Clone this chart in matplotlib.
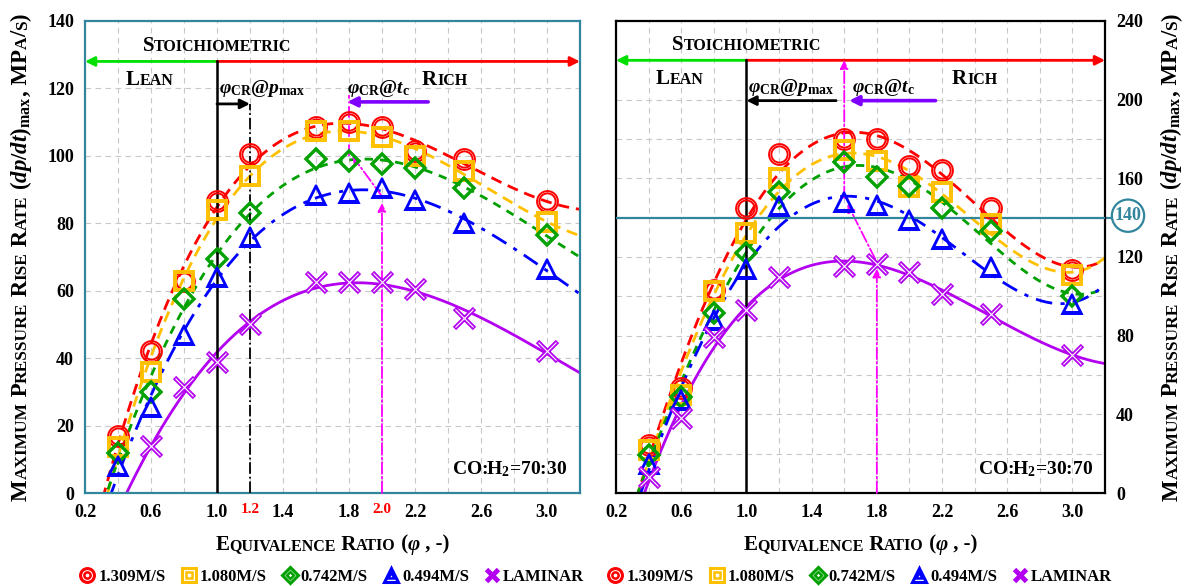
import numpy as np
import matplotlib
matplotlib.use('Agg')
import matplotlib.pyplot as plt
from matplotlib import transforms
from matplotlib.lines import Line2D
from matplotlib.legend_handler import HandlerTuple

plt.rcParams['font.family'] = ['Liberation Serif', 'DejaVu Serif']
plt.rcParams['font.weight'] = 'bold'
plt.rcParams['mathtext.fontset'] = 'custom'
plt.rcParams['mathtext.rm'] = 'Liberation Serif:bold'
plt.rcParams['mathtext.it'] = 'Liberation Serif:italic:bold'
plt.rcParams['mathtext.bf'] = 'Liberation Serif:bold'

# equivalence ratio of the measured points
phi = [0.4, 0.6, 0.8, 1.0, 1.2, 1.6, 1.8, 2.0, 2.2, 2.5, 3.0]
phi_lam_70 = [0.6, 0.8, 1.0, 1.2, 1.6, 1.8, 2.0, 2.2, 2.5, 3.0]

# CO:H2 = 70:30, (dp/dt)max in MPa/s
r1309_70 = [17, 42, 63, 86.5, 100.5, 108.5, 110, 108.5, 101.5, 99, 86.5]
r1080_70 = [13.5, 36, 63, 84, 94, 107.5, 107.5, 105.5, 100, 95.5, 80.5]
r0742_70 = [12, 30, 57.5, 69.5, 83, 99, 98.5, 97.5, 96.5, 90.5, 76.5]
r0494_70 = [8, 25.5, 47, 64, 76, 88.5, 89, 90.5, 87, 80, 66.5]
rlam_70 = [14, 31.5, 39, 50, 62.5, 62.5, 62.5, 60.5, 52, 42]

# CO:H2 = 30:70
r1309_30 = [24.5, 53.5, 103, 145, 172.5, 180, 180, 166.5, 164, 145, 113.5]
r1080_30 = [22, 50, 102.5, 132, 160, 174.5, 169, 155.5, 153, 137, 111]
r0742_30 = [19.5, 49, 91.5, 122, 153, 168.5, 160.5, 156, 145, 133, 100]
r0494_30 = [15, 47.5, 88, 114, 146, 148, 146.5, 139, 129, 115, 96]
rlam_30 = [8, 38, 79.5, 93, 110, 115.5, 116.5, 112.5, 101, 91, 70]

xticks = [0.2, 0.4, 0.6, 0.8, 1.0, 1.2, 1.4, 1.6, 1.8, 2.0, 2.2, 2.4, 2.6, 2.8, 3.0, 3.2]
xtick_labels = ['0.2', '', '0.6', '', '1.0', '', '1.4', '', '1.8', '', '2.2', '', '2.6', '', '3.0', '']
yticks_70 = [0, 20, 40, 60, 80, 100, 120, 140]
yticks_30 = [0, 20, 40, 60, 80, 100, 120, 140, 160, 180, 200, 220, 240]
ytick_labels_30 = ['0', '', '40', '', '80', '', '120', '', '160', '', '200', '', '240']

names = ['1.309', '1.080', '0.742', '0.494', 'Laminar']
colors = ['#FF0000', '#FFC000', '#00A000', '#0000FF', '#B400F0']
markers = ['o', 's', 'D', '^', 'x']
styles = [(0, (4, 2.5)), (0, (4, 2.5)), (0, (3, 2.5)), (0, (6, 3, 1.5, 3)), '-']
sizes = [15, 15, 11.5, 15, 14]

TEAL = '#31859C'
BIG, SMALL = 15, 11.5


def sc_segments(s, big=BIG, small=SMALL):
    # split a string into small-caps pieces
    segs = []
    for ch in s:
        size = small if ch.islower() else big
        c = ch.upper()
        if segs and segs[-1][1] == size and segs[-1][2] == 'normal':
            segs[-1] = (segs[-1][0] + c, size, 'normal')
        else:
            segs.append((c, size, 'normal'))
    return segs


def smallcaps(fig, x, y, segs, transform, ha='center', rotation=0, color='k'):
    r = fig.canvas.get_renderer()
    widths = []
    for s, size, style in segs:
        t = fig.text(0, 0, s, fontsize=size, style=style)
        widths.append(t.get_window_extent(r).width)
        t.remove()
    total = sum(widths)
    off = {'center': -total / 2, 'left': 0, 'right': -total}[ha]
    for (s, size, style), w in zip(segs, widths):
        dx, dy = (off, 0) if rotation == 0 else (0, off)
        tr = transforms.offset_copy(transform, fig=fig, x=dx, y=dy, units='dots')
        fig.text(x, y, s, fontsize=size, style=style, transform=tr, ha='left',
                 va='baseline', rotation=rotation, rotation_mode='anchor', color=color)
        off += w


def draw_series(ax, x, y, i, deg):
    c = colors[i]
    coeffs = np.polyfit(x, y, deg)
    xs = np.linspace(0.2, 3.2, 400)
    ax.plot(xs, np.polyval(coeffs, xs), color=c, ls=styles[i], lw=2, zorder=2)
    if markers[i] == 'x':
        ax.plot(x, y, ls='none', marker='x', ms=sizes[i], mew=3.4, color=c, zorder=4)
        ax.plot(x, y, ls='none', marker='x', ms=sizes[i] - 1, mew=0.8, color='white', zorder=5)
    else:
        ax.plot(x, y, ls='none', marker=markers[i], ms=sizes[i], mfc='none', mec=c, mew=1.4, zorder=4)
        ax.plot(x, y, ls='none', marker=markers[i], ms=sizes[i] * 0.78, mfc='none', mec=c, mew=1.4, zorder=4)


def legend_handles():
    hs = []
    for i in range(5):
        c = colors[i]
        if markers[i] == 'x':
            hs.append((Line2D([], [], ls='none', marker='x', ms=9, mew=3.5, color=c),))
        else:
            small = i == 2
            hs.append((Line2D([], [], ls='none', marker=markers[i], ms=8 if small else 10, mfc='none', mec=c, mew=2.2),
                       Line2D([], [], ls='none', marker=markers[i], ms=3.5 if small else 4.5, mfc='none', mec=c, mew=1.8)))
    return hs


def arrow(ax, p0, p1, color, lw=2, ls='-', head=12):
    ax.annotate('', xy=p1, xytext=p0, annotation_clip=False,
                arrowprops=dict(arrowstyle='-|>', color=color, lw=lw, ls=ls,
                                shrinkA=0, shrinkB=0, mutation_scale=head))


def setup(ax, yticks, ylabels, ymax):
    ax.set_xlim(0.2, 3.2)
    ax.set_ylim(0, ymax)
    ax.set_xticks(xticks)
    ax.set_xticklabels(xtick_labels, fontsize=13)
    ax.set_yticks(yticks)
    ax.set_yticklabels(ylabels, fontsize=13)
    ax.tick_params(length=0, pad=8)
    ax.grid(True, color='#C8C8C8', ls=(0, (5, 4)), lw=0.8)
    ax.set_axisbelow(True)


fig = plt.figure(figsize=(11.84, 5.86), dpi=100)
ax1 = fig.add_axes([0.0718, 0.1587, 0.418, 0.8055])
ax2 = fig.add_axes([0.5203, 0.1587, 0.413, 0.8055])

setup(ax1, yticks_70, [str(v) for v in yticks_70], 140)
setup(ax2, yticks_30, ytick_labels_30, 240)
ax2.yaxis.tick_right()
for s in ax1.spines.values():
    s.set_color(TEAL)
    s.set_linewidth(1.6)
for s in ax2.spines.values():
    s.set_color('k')
    s.set_linewidth(1.6)

for i, y in enumerate([r1309_70, r1080_70, r0742_70, r0494_70]):
    draw_series(ax1, phi, y, i, 3)
draw_series(ax1, phi_lam_70, rlam_70, 4, 3)
for i, y in enumerate([r1309_30, r1080_30, r0742_30, r0494_30, rlam_30]):
    draw_series(ax2, phi, y, i, 4)

# --- annotations, left panel ---
arrow(ax1, (1.0, 128), (0.2, 128), '#00E000', head=14)
arrow(ax1, (1.0, 128), (3.2, 128), '#FF0000', head=14)
ax1.plot([1.0, 1.0], [0, 128], color='k', lw=1.8, zorder=3)
ax1.plot([1.2, 1.2], [0, 115.4], color='k', lw=1.3, ls='-.', zorder=3)
arrow(ax1, (1.0, 115.4), (1.2, 115.4), 'k', head=14)
arrow(ax1, (2.28, 116), (1.79, 116), '#7F00FF', lw=2.6, head=14)
ax1.plot([1.8, 1.8], [100, 118], color='#FF00FF', lw=1.3, ls='-.', zorder=3)
arrow(ax1, (2.0, 88), (1.82, 100), '#FF00FF', lw=1.3, ls='-.', head=12)
arrow(ax1, (2.0, 0), (2.0, 86), '#FF00FF', lw=1.3, ls='-.', head=12)
ax1.text(1.01, 120, r'$\varphi_{\mathrm{CR}}\mathrm{@}p_{\mathrm{max}}$', fontsize=14, va='center', ha='left')
ax1.text(1.79, 120, r'$\varphi_{\mathrm{CR}}\mathrm{@}t_{\mathrm{c}}$', fontsize=14, va='center', ha='left')
ax1.text(0.975, 0.03, r'CO:H$_2$=70:30', transform=ax1.transAxes, ha='right', va='bottom', fontsize=14)
for xv in [1.2, 2.0]:
    ax1.text(xv, -0.034, f'{xv:.1f}', transform=ax1.get_xaxis_transform(), color='red',
             fontsize=11, ha='center', va='center')

# --- annotations, right panel ---
arrow(ax2, (1.0, 220), (0.2, 220), '#00E000', head=14)
arrow(ax2, (1.0, 220), (3.2, 220), '#FF0000', head=14)
ax2.plot([1.0, 1.0], [0, 220], color='k', lw=1.8, zorder=3)
arrow(ax2, (1.55, 199.5), (1.0, 199.5), 'k', head=14)
arrow(ax2, (2.16, 199.5), (1.63, 199.5), '#7F00FF', lw=2.6, head=14)
arrow(ax2, (1.6, 150), (1.6, 220), '#FF00FF', lw=1.3, ls='-.', head=12)
arrow(ax2, (1.79, 119), (1.62, 147), '#FF00FF', lw=1.3, ls='-.', head=12)
arrow(ax2, (1.8, 0), (1.8, 114), '#FF00FF', lw=1.3, ls='-.', head=12)
ax2.text(1.54, 206, r'$\varphi_{\mathrm{CR}}\mathrm{@}p_{\mathrm{max}}$', fontsize=14, va='center', ha='right')
ax2.text(1.65, 206, r'$\varphi_{\mathrm{CR}}\mathrm{@}t_{\mathrm{c}}$', fontsize=14, va='center', ha='left')
ax2.text(0.975, 0.03, r'CO:H$_2$=30:70', transform=ax2.transAxes, ha='right', va='bottom', fontsize=14)
ax2.axhline(140, color=TEAL, lw=1.6, zorder=3)
tb = transforms.blended_transform_factory(ax2.transAxes, ax2.transData)
ax2.plot([1.0, 1.03], [140, 140], color=TEAL, lw=1.6, transform=tb, clip_on=False)
ax2.text(1.047, 141, '140', transform=tb, color=TEAL, fontsize=13, ha='center', va='center',
         bbox=dict(boxstyle='circle,pad=0.15', fc='white', ec=TEAL, lw=1.6))

# small caps labels
for ax, yb in [(ax1, 131), (ax2, 225)]:
    smallcaps(fig, 1.0, yb, sc_segments('Stoichiometric'), ax.transData)
for ax, yv, xl, xr in [(ax1, 121, 0.59, 2.38), (ax2, 208, 0.59, 2.4)]:
    smallcaps(fig, xl, yv, sc_segments('Lean'), ax.transData)
    smallcaps(fig, xr, yv, sc_segments('Rich'), ax.transData)

xlab = sc_segments('Equivalence Ratio (') + [('φ', BIG, 'italic')] + sc_segments(' , -)')
YB, YS = 16.5, 12.5
ylab = (sc_segments('Maximum Pressure Rise Rate ', YB, YS) + [(r'$(dp/dt)_{\mathrm{max}}$', YB, 'normal')]
        + sc_segments(', MPa/s)', YB, YS))
for ax in [ax1, ax2]:
    smallcaps(fig, 0.5, -0.12, xlab, ax.transAxes)
smallcaps(fig, -0.118, 0.5, ylab, ax1.transAxes, rotation=90)
smallcaps(fig, 1.148, 0.5, ylab, ax2.transAxes, rotation=90)

labels = [n + 'M/S' for n in names[:4]] + ['LAMINAR']
for ax in [ax1, ax2]:
    ax.legend(legend_handles(), labels, loc='center', bbox_to_anchor=(0.5, -0.178), ncol=5,
              frameon=False, fontsize=12, handler_map={tuple: HandlerTuple(ndivide=1, pad=0)},
              handlelength=0.8, handletextpad=0.25, columnspacing=1.0)

fig.savefig('out.png', dpi=100)
